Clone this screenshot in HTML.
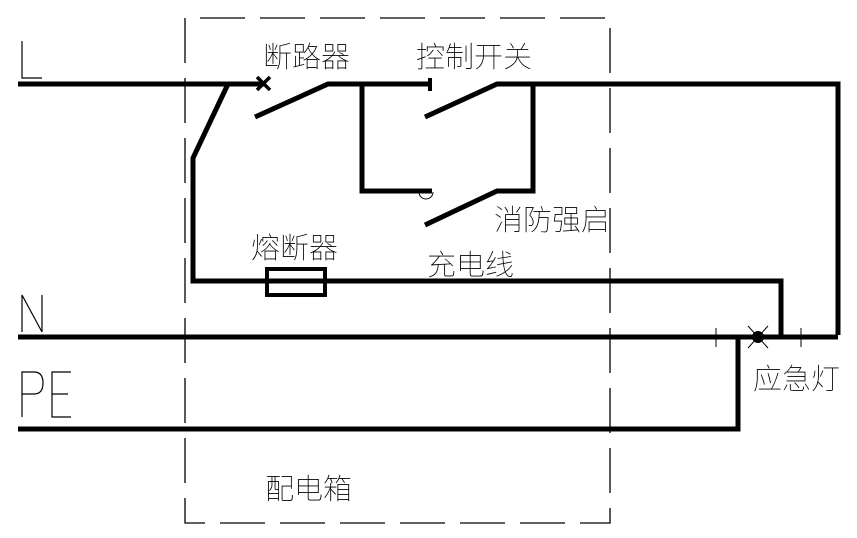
<!DOCTYPE html>
<html><head><meta charset="utf-8"><style>
html,body{margin:0;padding:0;background:#fff;width:857px;height:538px;overflow:hidden}
text{font-family:"Liberation Sans","Noto Sans CJK SC",sans-serif;fill:#000}
.c{font-family:"WenQuanYi Zen Hei","Noto Sans CJK SC",sans-serif;font-size:29px;font-weight:100}
</style></head><body>
<svg width="857" height="538" viewBox="0 0 857 538" xmlns="http://www.w3.org/2000/svg">
<g stroke="#000" stroke-width="1.3" fill="none" stroke-dasharray="45,15">
<path d="M185 63 V18 H610 V523 H185 V63"/>
</g>
<g stroke="#000" stroke-width="5" fill="none" stroke-linecap="butt">
<path d="M18 84 H264"/>
<path d="M255 117 L328 84 H430"/>
<path d="M430 78 V91" stroke-width="4"/>
<path d="M362 84 V191 H432"/>
<path d="M425 117 L497 84 H838 V335"/>
<path d="M533 84 V191 H497 L425 225"/>
<path d="M228 84 L193 158 V281 H781 V337"/>
<rect x="267" y="269" width="58" height="26" stroke-width="4"/>
<path d="M18 337 H838"/>
<path d="M18 429 H738 V335"/>
</g>
<path d="M257 77 L270 90 M270 77 L257 90" stroke="#000" stroke-width="3.5"/>
<path d="M419 192 a7 7 0 0 0 14 0" stroke="#000" stroke-width="1" fill="none"/>
<g stroke="#000" stroke-width="1">
<path d="M716 328 V347 M801 328 V347"/>
<path d="M748 326 L768 348 M768 326 L748 348"/>
</g>
<circle cx="758" cy="337" r="6" fill="#000"/>
<g stroke="#000" stroke-width="1.2" fill="none">
<path d="M22 41 V78 H42"/>
<path d="M22 332 V295 L42 332 V295"/>
<path d="M22 417 V372 H34 Q43 372 43 383 Q43 394 34 394 H22"/>
<path d="M71 372 H52 V417 H71 M52 394 H68"/>
</g>
<text class="c" x="263" y="67">断路器</text>
<text class="c" x="416" y="67">控制开关</text>
<text class="c" x="494" y="230">消防强启</text>
<text class="c" x="251" y="258">熔断器</text>
<text class="c" x="427" y="275">充电线</text>
<text class="c" x="753" y="389">应急灯</text>
<text class="c" x="265" y="499">配电箱</text>
</svg>
</body></html>
